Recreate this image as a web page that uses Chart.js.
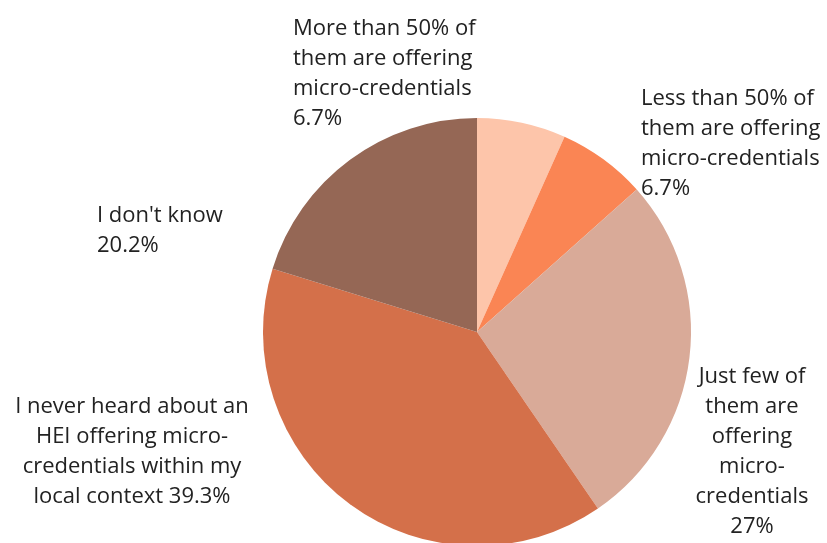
<!DOCTYPE html>
<html lang="en">
  <head>
    <meta charset="UTF-8" />
    <title>HEIs offering micro-credentials</title>
    <script src="https://cdn.jsdelivr.net/npm/chart.js"></script>
    <style>
      html,
      body {
        margin: 0;
        padding: 0;
        background: #fff;
        overflow: hidden;
      }
      .chart-box {
        position: relative;
        width: 827px;
        height: 560px;
      }
    </style>
  </head>
  <body>
    <div class="chart-box">
      <canvas id="pieChart"></canvas>
    </div>

    <script>
      // answers, clockwise from 12 o'clock; {v} is replaced by the share
      const answers = [
        ["More than 50% of", "them are offering", "micro-credentials", "{v}"],
        ["Less than 50% of", "them are offering", "micro-credentials", "{v}"],
        ["Just few of", "them are", "offering", "micro-", "credentials", "{v}"],
        ["I never heard about an", "HEI offering micro-", "credentials within my", "local context {v}"],
        ["I don't know", "{v}"],
      ];
      const shares = [6.7, 6.7, 27, 39.3, 20.2];
      const sliceColors = ["#fdc5aa", "#fa8554", "#d9aa98", "#d4704a", "#956755"];

      // where each label block sits: x, first baseline, alignment
      const labelSpots = [
        { x: 293, y: 35, align: "left" },
        { x: 641, y: 105, align: "left" },
        { x: 752, y: 383, align: "center" },
        { x: 132, y: 413, align: "center" },
        { x: 97, y: 222, align: "left" },
      ];

      const sliceLabels = {
        id: "sliceLabels",
        afterDraw(chart) {
          const ctx = chart.ctx;
          const values = chart.data.datasets[0].data;
          ctx.save();
          ctx.font = '22px "Open Sans", sans-serif';
          ctx.fillStyle = "#222";
          ctx.textBaseline = "alphabetic";
          answers.forEach((lines, i) => {
            const spot = labelSpots[i];
            ctx.textAlign = spot.align;
            lines.forEach((line, j) => {
              const text = line.replace("{v}", values[i] + "%");
              ctx.fillText(text, spot.x, spot.y + j * 30);
            });
          });
          ctx.restore();
        },
      };

      new Chart(document.getElementById("pieChart"), {
        type: "pie",
        data: {
          labels: answers.map((a) => a.filter((l) => l !== "{v}").join(" ").replace(" {v}", "")),
          datasets: [
            {
              data: shares,
              backgroundColor: sliceColors,
              borderWidth: 0,
            },
          ],
        },
        options: {
          responsive: true,
          maintainAspectRatio: false,
          animation: false,
          layout: {
            padding: { left: 263, right: 136, top: 118, bottom: 14 },
          },
          plugins: {
            legend: { display: false },
            tooltip: { enabled: false },
          },
        },
        plugins: [sliceLabels],
      });
    </script>
  </body>
</html>
